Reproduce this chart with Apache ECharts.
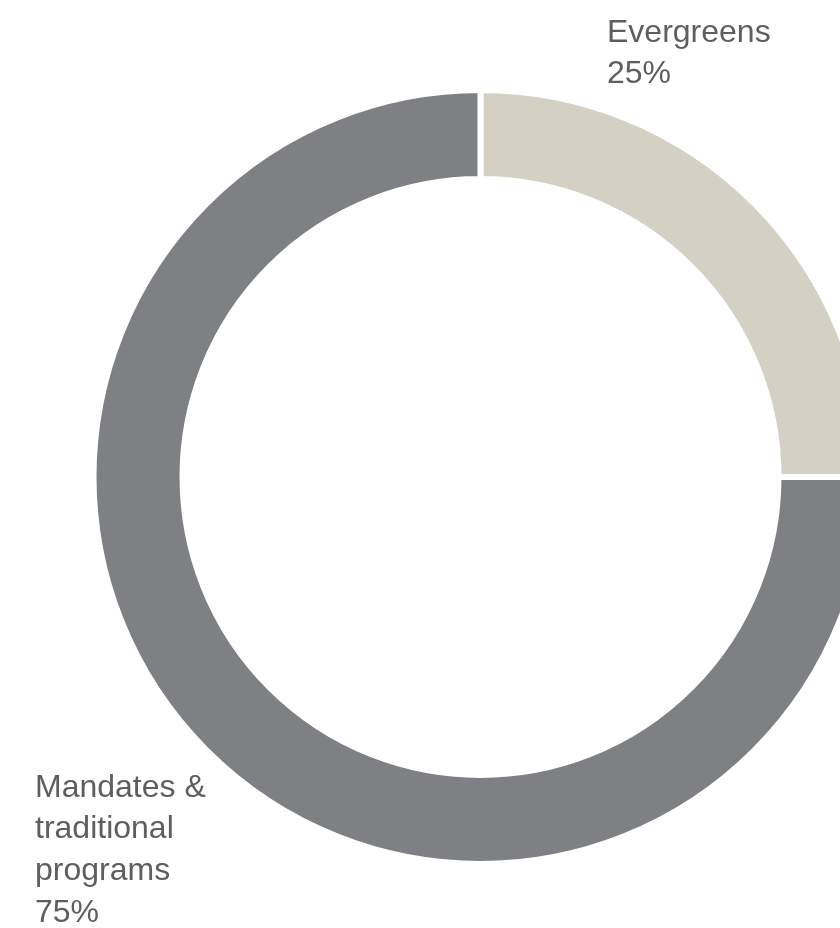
<!DOCTYPE html>
<html>
<head>
<meta charset="utf-8">
<script src="https://cdn.jsdelivr.net/npm/echarts@6/dist/echarts.min.js"></script>
<style>
  html, body { margin: 0; padding: 0; background: #ffffff; }
  #chart { width: 840px; height: 928px; }
</style>
</head>
<body>
<div id="chart"></div>
<script>
// Allocation split, drawn clockwise from 12 o'clock
const categories = ['Evergreens', 'Mandates &\ntraditional\nprograms'];
const shares = [25, 75];
const colors = ['#d5d0c4', '#7f8083'];

// Label anchor (top-left of each text block)
const labelAnchors = [
  { x: 607, y: 12 },
  { x: 35, y: 767 }
];

const chart = echarts.init(document.getElementById('chart'), null, { renderer: 'canvas' });

chart.setOption({
  backgroundColor: '#ffffff',
  animation: false,
  series: [{
    type: 'pie',
    center: [480.5, 477],
    radius: [298, 387],
    startAngle: 90,
    clockwise: true,
    avoidLabelOverlap: false,
    itemStyle: { borderColor: '#ffffff', borderWidth: 6 },
    label: {
      show: true,
      position: 'outside',
      formatter: p => p.name + '\n' + p.value + '%',
      color: '#5e5e5e',
      fontFamily: '"Liberation Sans", Arial, sans-serif',
      fontSize: 32,
      lineHeight: 41.7,
      align: 'left'
    },
    labelLine: { show: false },
    labelLayout: params => ({
      x: labelAnchors[params.dataIndex].x,
      y: labelAnchors[params.dataIndex].y,
      align: 'left',
      verticalAlign: 'top',
      hideOverlap: false,
      moveOverlap: null
    }),
    emphasis: { disabled: true },
    data: categories.map((name, i) => ({
      name: name,
      value: shares[i],
      itemStyle: { color: colors[i] }
    }))
  }]
});
</script>
</body>
</html>
